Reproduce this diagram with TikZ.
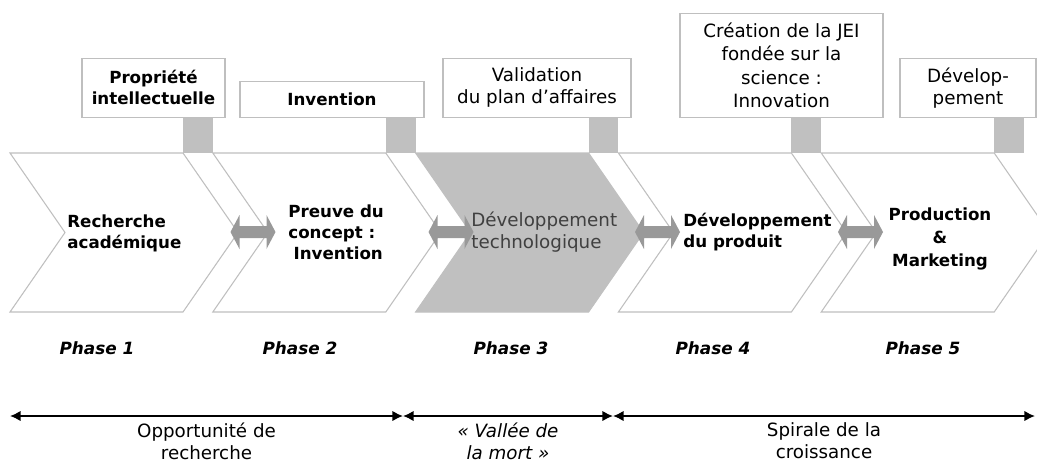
\documentclass[tikz,border=0pt]{standalone}
\usepackage{fontspec}
\setmainfont{DejaVu Sans}
\usetikzlibrary{arrows.meta, positioning, calc}

\definecolor{tabgray}{HTML}{C0C0C0}
\definecolor{linkgray}{HTML}{999999}
\definecolor{edgegray}{HTML}{BFBFBF}

\newcommand{\bsize}{\fontsize{9.5}{12}\selectfont\bfseries}
\newcommand{\rsize}{\fontsize{10.4}{12.5}\selectfont}

\begin{document}
\begin{tikzpicture}[
  x=0.02cm, y=-0.02cm,
  chev/.style={draw=edgegray, line width=0.6pt, fill=white},
  chevhi/.style={draw=tabgray, line width=0.6pt, fill=tabgray},
  tab/.style={fill=tabgray},
  topbox/.style={draw=edgegray, line width=0.8pt, fill=white, align=center, anchor=south, inner sep=2pt},
  ctext/.style={align=left, anchor=west, inner sep=0pt, font=\bsize},
  phase/.style={font=\fontsize{9.6}{12}\selectfont\bfseries\itshape},
  link/.pic={\fill[linkgray] (-22.5,0) -- (-13.5,-17) -- (-13.5,-6) -- (13.5,-6) -- (13.5,-17) -- (22.5,0)
      -- (13.5,17) -- (13.5,6) -- (-13.5,6) -- (-13.5,17) -- cycle;},
  span/.style={{Latex[length=6pt,width=6pt]}-{Latex[length=6pt,width=6pt]}, line width=1.1pt},
  spanlabel/.style={font=\rsize, align=center, inner sep=0pt}
]
\useasboundingbox (0,0) rectangle (1037,464);
\clip (0,0) rectangle (1037,464);

% chevrons and the grey tabs on top of them
\foreach \i in {0,...,4} {
  \pgfmathsetmacro{\L}{10+202.8*\i}
  \pgfmathsetmacro{\R}{\L+173}
  \ifnum\i=2
    \draw[chevhi] (\L,153) -- (\R,153) -- (\R+55,232.5) -- (\R,312) -- (\L,312) -- (\L+55,232.5) -- cycle;
  \else
    \draw[chev] (\L,153) -- (\R,153) -- (\R+55,232.5) -- (\R,312) -- (\L,312) -- (\L+55,232.5) -- cycle;
  \fi
  \fill[tab] (\R,118) rectangle (\R+29.8,153);
}

% boxes above
\node[topbox, font=\bsize, minimum width=2.86cm, minimum height=1.18cm] (pi) at (153.5,118) {Propriété\\intellectuelle};
\node[topbox, font=\bsize, minimum width=3.68cm, minimum height=0.72cm] (inv) at (332,118) {Invention};
\node[topbox, font=\rsize, minimum width=3.76cm, minimum height=1.18cm] (valid) at (537,118) {Validation\\du plan d’affaires};
\node[topbox, font=\fontsize{10.4}{13.2}\selectfont, minimum width=4.06cm, minimum height=2.08cm] (jei) at (781.5,118) {Création de la JEI\\fondée sur la\\science :\\Innovation};
\node[topbox, font=\rsize, minimum width=2.72cm, minimum height=1.18cm] (dev) at (968,118) {Dévelop-\\pement};

% text in the chevrons
\node[ctext] (acad) at (67,233) {Recherche\\académique};
\node[ctext] (proof) at (288,232) {Preuve du\\concept :\\\hspace*{3pt}Invention};
\node[ctext, font=\rsize, text=black!75] (techno) at (471,232) {Développement\\technologique};
\node[ctext] (produit) at (683,232) {Développement\\du produit};
\node[ctext, align=center, anchor=center, font=\fontsize{9.5}{13.2}\selectfont\bfseries] (prodmkt) at (940,239) {Production\\\&\\Marketing};

% double arrows between phases
\pic (a1) at (253,232) {link};
\pic (a2) at (451,232) {link};
\pic (a3) at (657.5,232) {link};
\pic (a4) at (860.5,232) {link};

% phase labels
\node[phase] (ph1) at (97,348) {Phase 1};
\node[phase] (ph2) at (300,348) {Phase 2};
\node[phase] (ph3) at (511,348) {Phase 3};
\node[phase] (ph4) at (713,348) {Phase 4};
\node[phase] (ph5) at (923,348) {Phase 5};

% spans at the bottom
\coordinate (s0) at (10,416);
\coordinate (s1) at (403,416);
\coordinate (s2) at (613,416);
\coordinate (s3) at (1035,416);
\draw[span] (s0) -- (s1);
\draw[span] (s1) -- (s2);
\draw[span] (s2) -- (s3);

\coordinate (m1) at ($(s0)!0.5!(s1)$);
\coordinate (m2) at ($(s1)!0.5!(s2)$);
\coordinate (m3) at ($(s2)!0.5!(s3)$);
\node[spanlabel, below=0.13cm of m1] (opp) {Opportunité de\\recherche};
\node[spanlabel, below=0.13cm of m2, font=\rsize\itshape] (vallee) {« Vallée de\\la mort »};
\node[spanlabel, below=0.13cm of m3] (spirale) {Spirale de la\\croissance};
\end{tikzpicture}
\end{document}
